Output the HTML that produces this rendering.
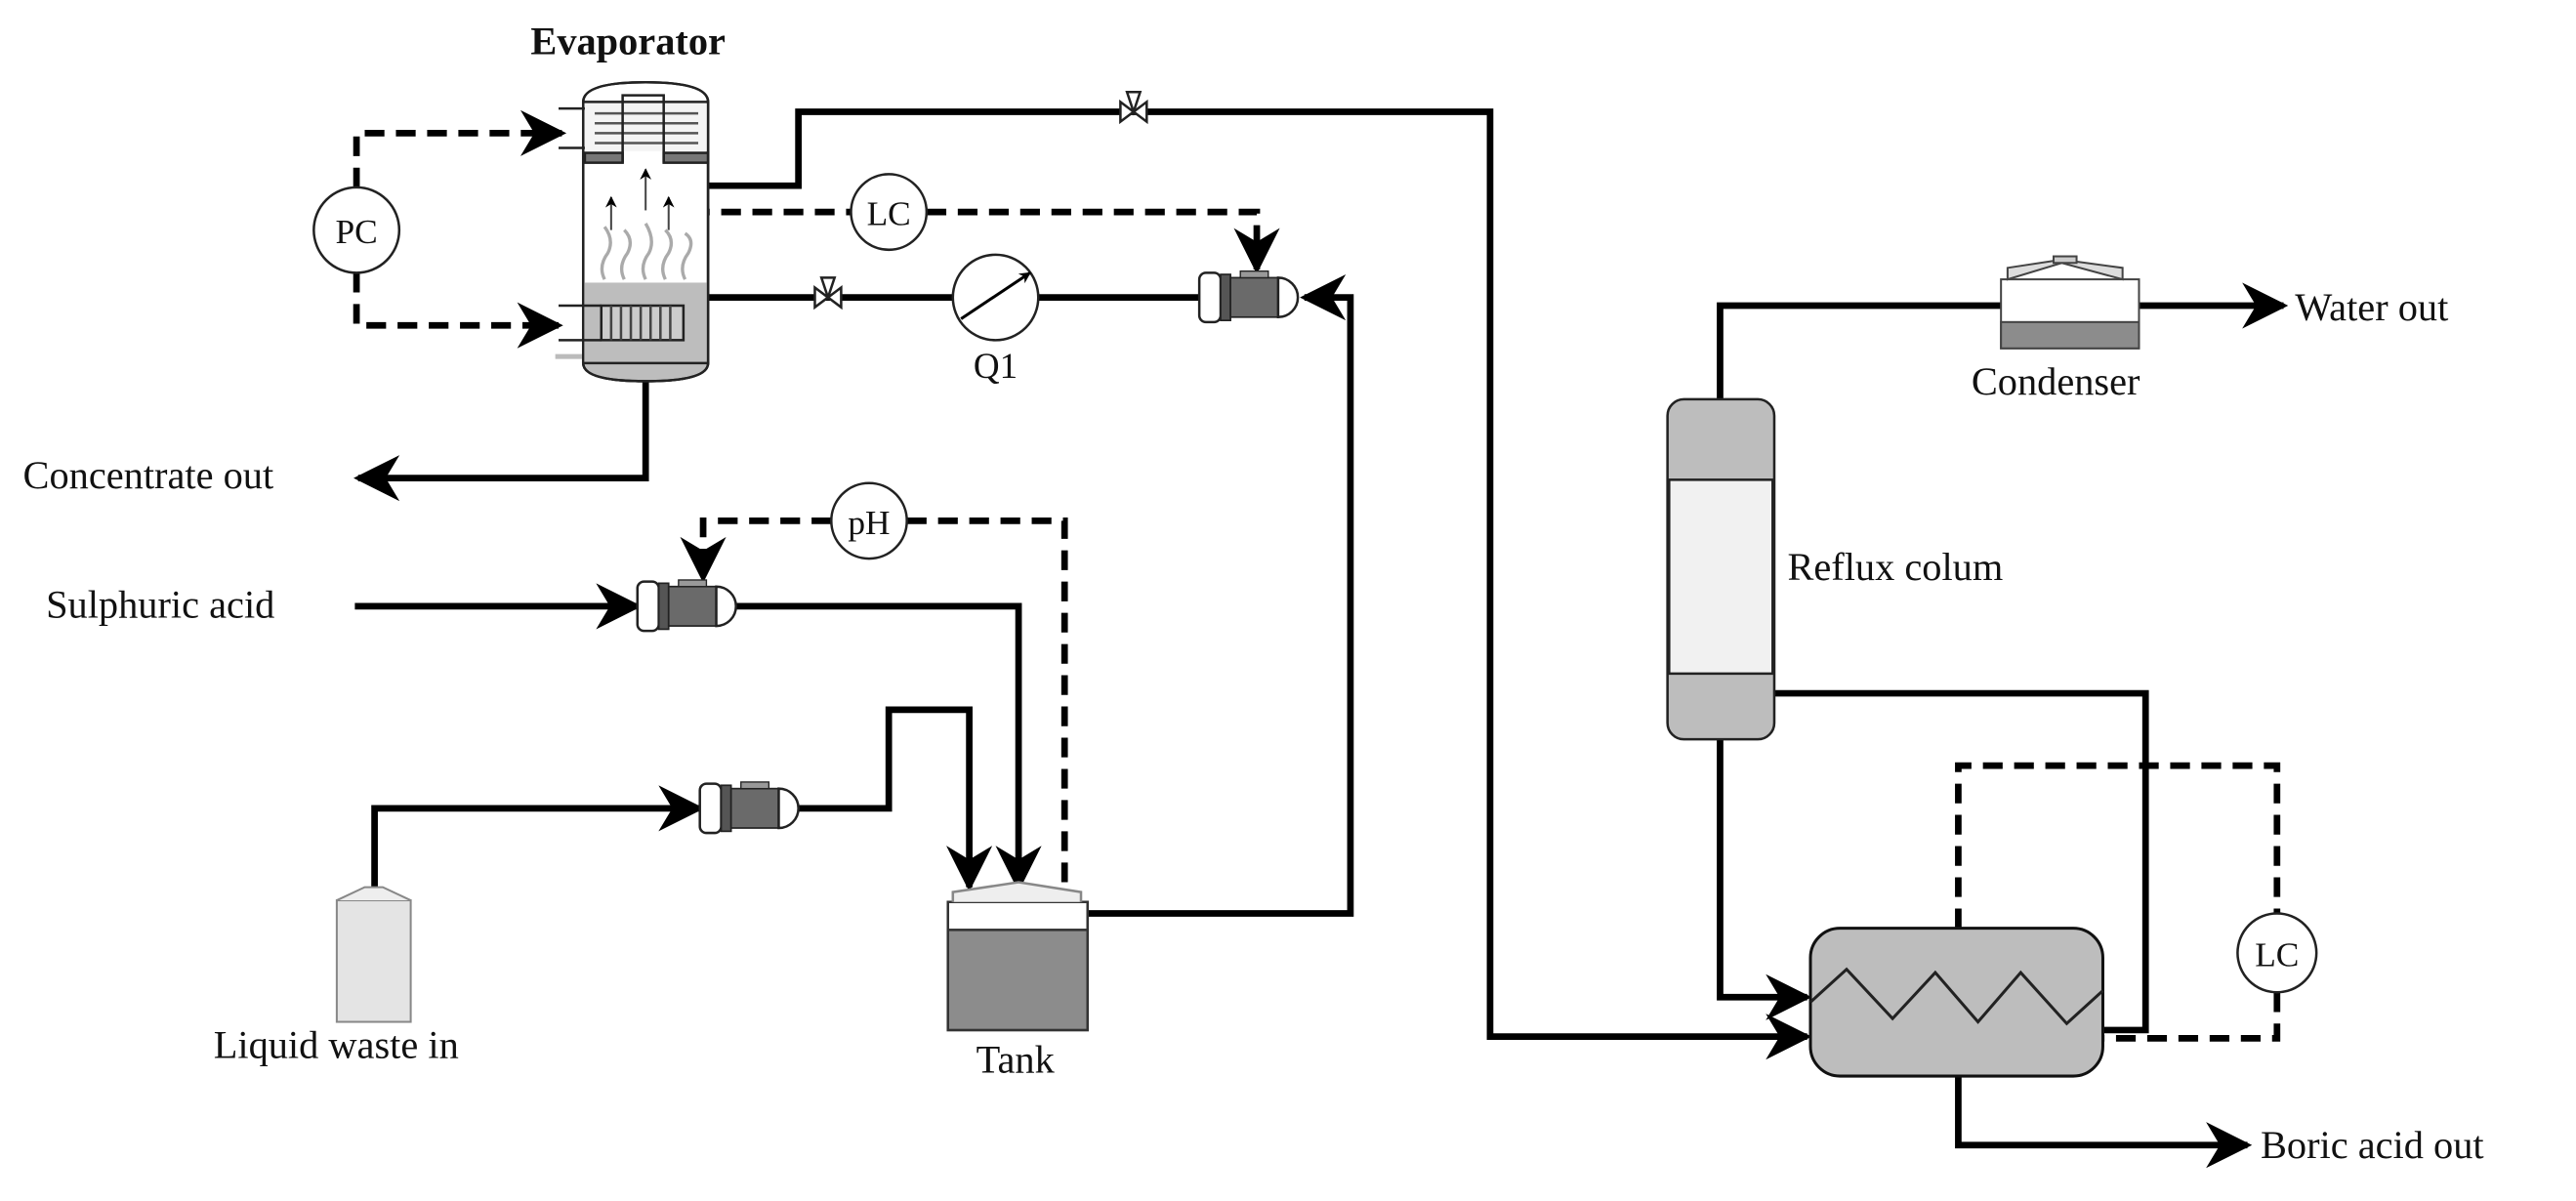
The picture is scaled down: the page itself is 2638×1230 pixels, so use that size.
<!DOCTYPE html>
<html><head><meta charset="utf-8"><style>
html,body{margin:0;padding:0;background:#fff}
svg{display:block}
text{font-family:"Liberation Serif",serif;fill:#111}
</style></head><body>
<svg width="2638" height="1230" viewBox="0 0 1568 731" xmlns="http://www.w3.org/2000/svg">
<defs>
<marker id="ar" viewBox="0 0 10 10" refX="9" refY="5" markerWidth="7" markerHeight="7" markerUnits="userSpaceOnUse" orient="auto"><path d="M0,0 L10,5 L0,10 L3,5 z" fill="#000"/></marker>
<marker id="ab" viewBox="0 0 10 10" refX="9" refY="5" markerWidth="30" markerHeight="28" markerUnits="userSpaceOnUse" orient="auto"><path d="M0,0 L10,5 L0,10 L3,5 z" fill="#000"/></marker>
<g id="pump">
<rect x="0" y="-15" width="13" height="30" rx="4" fill="#fff" stroke="#222" stroke-width="1.5"/>
<rect x="13" y="-14" width="6" height="28" fill="#555" stroke="#222"/>
<rect x="19" y="-12" width="29" height="24" fill="#6a6a6a" stroke="#222"/>
<rect x="25" y="-16" width="17" height="4" fill="#999" stroke="#222" stroke-width="0.8"/>
<path d="M48,-12 A12,12 0 0 1 48,12 z" fill="#fff" stroke="#222" stroke-width="1.5"/>
</g>
</defs>

<g fill="none" stroke="#000" stroke-width="4">
<polyline points="431,113 486,113 486,68 907,68 907,631 1100,631" marker-end="url(#ab)"/>
<polyline points="431,181 580,181"/>
<polyline points="632,181 730,181"/>
<polyline points="662,556 822,556 822,181 794,181" marker-end="url(#ab)"/>
<polyline points="393,232 393,291 218,291" marker-end="url(#ab)"/>
<polyline points="216,369 388,369" marker-end="url(#ab)"/>
<polyline points="448,369 620,369 620,540" marker-end="url(#ab)"/>
<polyline points="228,540 228,492 426,492" marker-end="url(#ab)"/>
<polyline points="486,492 541,492 541,432 590,432 590,540" marker-end="url(#ab)"/>
<polyline points="1047,243 1047,186 1218,186"/>
<polyline points="1302,186 1390,186" marker-end="url(#ab)"/>
<polyline points="1080,422 1306,422 1306,627 1280,627"/>
<polyline points="1047,450 1047,607 1100,607" marker-end="url(#ab)"/>
<polyline points="1192,655 1192,697 1368,697" marker-end="url(#ab)"/>
</g>

<g fill="none" stroke="#000" stroke-width="4" stroke-dasharray="12,7">
<polyline points="217,114 217,81 342,81" marker-end="url(#ab)"/>
<polyline points="217,166 217,198 340,198" marker-end="url(#ab)"/>
<polyline points="420,129 518,129"/>
<polyline points="564,129 765,129 765,164" marker-end="url(#ab)"/>
<polyline points="506,317 428,317 428,352" marker-end="url(#ab)"/>
<polyline points="552,317 648,317 648,545"/>
<polyline points="1192,565 1192,466 1386,466 1386,556"/>
<polyline points="1386,604 1386,632 1280,632"/>
</g>

<!-- Evaporator -->
<g stroke="#222" stroke-width="1.5">
<path d="M355,62 Q355,50 393,50 Q431,50 431,62 L431,221 Q431,232 393,232 Q355,232 355,221 z" fill="#fff"/>
<rect x="356" y="172" width="75" height="49" fill="#bdbdbd" stroke="none"/>
<path d="M355,221 L431,221 Q431,232 393,232 Q355,232 355,221 z" fill="#bdbdbd"/>
<line x1="355" y1="62" x2="431" y2="62"/>
<rect x="356" y="63" width="75" height="29" fill="#f4f4f4" stroke="none"/>
<g stroke="#555" stroke-width="1.5">
<line x1="362" y1="69" x2="425" y2="69"/><line x1="362" y1="75" x2="425" y2="75"/>
<line x1="362" y1="81" x2="425" y2="81"/><line x1="362" y1="87" x2="425" y2="87"/>
</g>
<rect x="356" y="93" width="23" height="6" fill="#777"/>
<rect x="404" y="93" width="27" height="6" fill="#777"/>
<path d="M379,99 L379,58 L404,58 L404,99" fill="none"/>
<line x1="340" y1="66" x2="356" y2="66"/><line x1="340" y1="90" x2="356" y2="90"/>
<rect x="366" y="186" width="50" height="21" fill="#ccc"/>
<g stroke="#444"><line x1="372" y1="186" x2="372" y2="207"/><line x1="378" y1="186" x2="378" y2="207"/><line x1="384" y1="186" x2="384" y2="207"/><line x1="390" y1="186" x2="390" y2="207"/><line x1="396" y1="186" x2="396" y2="207"/><line x1="402" y1="186" x2="402" y2="207"/><line x1="408" y1="186" x2="408" y2="207"/></g>
<line x1="340" y1="186" x2="366" y2="186"/><line x1="340" y1="207" x2="366" y2="207"/>
<line x1="338" y1="217" x2="355" y2="217" stroke="#bbb" stroke-width="3"/>
<path d="M355,62 Q355,50 393,50 Q431,50 431,62 L431,221 Q431,232 393,232 Q355,232 355,221 z" fill="none"/>
</g>
<g stroke="#444" stroke-width="1.2" marker-end="url(#ar)" fill="none">
<line x1="372" y1="140" x2="372" y2="120"/>
<line x1="393" y1="128" x2="393" y2="103"/>
<line x1="407" y1="140" x2="407" y2="120"/>
</g>
<g stroke="#aaa" stroke-width="2" fill="none">
<path d="M368,170 q-4,-8 2,-16 q4,-8 -2,-16"/><path d="M380,170 q-4,-8 2,-16 q4,-8 -2,-14"/>
<path d="M393,170 q-4,-8 2,-16 q4,-8 -2,-18"/><path d="M405,170 q-4,-8 2,-16 q4,-8 -2,-14"/>
<path d="M417,170 q-4,-8 2,-16 q4,-8 -2,-12"/>
</g>

<g stroke="#222" stroke-width="1.5" fill="#fff">
<path d="M496,175 L496,187 L512,175 L512,187 z"/><path d="M500,169 L508,169 L504,181 z"/>
<path d="M682,62 L682,74 L698,62 L698,74 z"/><path d="M686,56 L694,56 L690,68 z"/>
</g>

<circle cx="606" cy="181" r="26" fill="#fff" stroke="#222" stroke-width="1.5"/>
<line x1="585" y1="194" x2="627" y2="166" stroke="#000" stroke-width="1.8" marker-end="url(#ar)"/>

<g fill="#fff" stroke="#222" stroke-width="1.5">
<circle cx="217" cy="140" r="26"/>
<circle cx="541" cy="129" r="23"/>
<circle cx="529" cy="317" r="23"/>
<circle cx="1386" cy="580" r="24"/>
</g>

<use href="#pump" x="730" y="181"/>
<use href="#pump" x="388" y="369"/>
<use href="#pump" x="426" y="492"/>

<g stroke="#888" stroke-width="1.2">
<rect x="205" y="548" width="45" height="74" fill="#e4e4e4"/>
<path d="M205,548 L222,540 L233,540 L250,548" fill="#eee"/>
</g>

<g stroke="#333" stroke-width="1.5">
<rect x="577" y="549" width="85" height="78" fill="#fff"/>
<rect x="577" y="566" width="85" height="61" fill="#8c8c8c"/>
<path d="M580,549 L580,543 L620,537 L658,543 L658,549" fill="#eee" stroke="#888"/>
</g>

<g stroke="#222" stroke-width="1.5">
<rect x="1015" y="243" width="65" height="207" rx="10" fill="#bdbdbd"/>
<rect x="1016" y="292" width="63" height="118" fill="#f1f1f1"/>
</g>

<g stroke="#444" stroke-width="1.2">
<rect x="1218" y="170" width="84" height="42" fill="#fff"/>
<rect x="1218" y="196" width="84" height="16" fill="#8c8c8c"/>
<path d="M1222,170 L1222,163 L1255,158 L1292,163 L1292,170 L1255,160 z" fill="#ddd"/>
<rect x="1250" y="156" width="14" height="4" fill="#ccc"/>
</g>

<rect x="1102" y="565" width="178" height="90" rx="18" fill="#bdbdbd" stroke="#111" stroke-width="1.8"/>
<polyline points="1102,610 1124,590 1152,620 1178,592 1204,622 1230,592 1258,623 1280,603" fill="none" stroke="#222" stroke-width="1.8"/>

<text x="323" y="33" font-size="24" font-weight="bold">Evaporator</text>
<text x="217" y="148" font-size="21" text-anchor="middle">PC</text>
<text x="541" y="137" font-size="21" text-anchor="middle">LC</text>
<text x="529" y="325" font-size="21" text-anchor="middle">pH</text>
<text x="1386" y="588" font-size="21" text-anchor="middle">LC</text>
<text x="606" y="230" font-size="22" text-anchor="middle">Q1</text>
<text x="14" y="297" font-size="24">Concentrate out</text>
<text x="28" y="376" font-size="24">Sulphuric acid</text>
<text x="130" y="644" font-size="24">Liquid waste in</text>
<text x="618" y="653" font-size="24" text-anchor="middle">Tank</text>
<text x="1200" y="240" font-size="24">Condenser</text>
<text x="1397" y="195" font-size="24">Water out</text>
<text x="1088" y="353" font-size="24">Reflux colum</text>
<text x="1376" y="705" font-size="24">Boric acid out</text>
</svg>
</body></html>
